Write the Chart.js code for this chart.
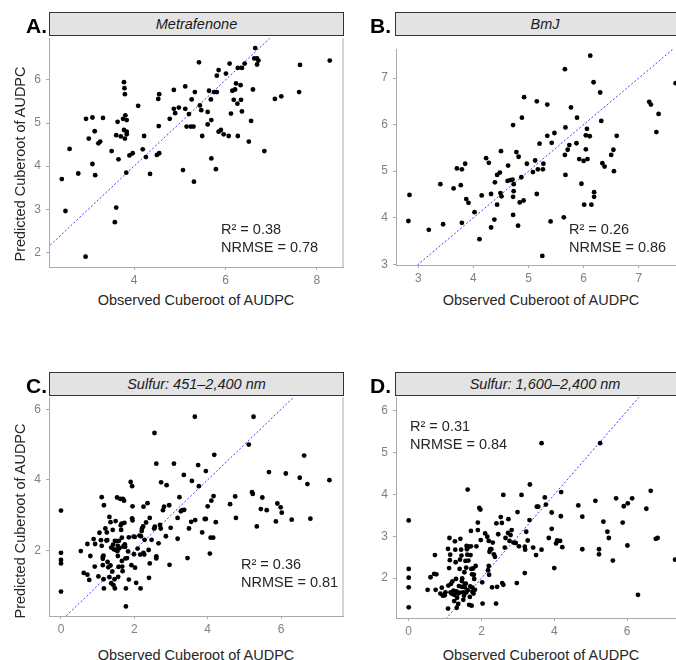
<!DOCTYPE html>
<html>
<head>
<meta charset="utf-8">
<script src="https://cdn.jsdelivr.net/npm/chart.js@4.4.1/dist/chart.umd.min.js"></script>
<style>
  html, body { margin: 0; padding: 0; background: #fff; }
  body { width: 676px; height: 660px; position: relative; overflow: hidden; font-family: Arial, "Liberation Sans", Helvetica, sans-serif; }
  .cbox { position: absolute; }
  .strip { position: absolute; background: #e3e3e3; border: 1px solid #333; box-sizing: border-box; font-style: italic; font-size: 14.5px; color: #1a1a1a; text-align: center; white-space: nowrap; }
  .tag { position: absolute; font-weight: bold; font-size: 21px; line-height: 20px; color: #000; }
  .xtitle { position: absolute; width: 300px; font-size: 14.5px; line-height: 16px; color: #262626; text-align: center; white-space: nowrap; }
  .ytitle { position: absolute; width: 300px; font-size: 14.5px; line-height: 16px; color: #262626; text-align: center; white-space: nowrap; transform: rotate(-90deg); }
  .note { position: absolute; font-size: 14.5px; line-height: 17.5px; color: #262626; white-space: nowrap; }
</style>
</head>
<body>
<script>
// panel A - Metrafenone
const metraObs = [2.42,2.50,2.59,2.78,2.95,2.94,3.01,3.09,3.09,3.14,
  3.15,3.22,3.26,3.32,3.51,3.58,3.61,3.61,3.64,3.66,
  3.71,3.76,3.78,3.79,3.80,3.78,3.80,3.81,3.84,3.84,
  3.84,3.83,3.90,3.97,4.09,4.19,4.22,4.26,4.35,4.50,
  4.53,4.55,4.54,4.55,4.78,4.87,4.87,4.90,4.98,5.07,
  5.12,5.12,5.15,5.20,5.24,5.26,5.31,5.30,5.33,5.42,
  5.44,5.47,5.49,5.61,5.61,5.64,5.68,5.69,5.69,5.75,
  5.79,5.81,5.81,5.85,5.85,5.90,5.96,6.01,6.07,6.09,
  6.12,6.15,6.18,6.21,6.23,6.26,6.27,6.27,6.34,6.33,
  6.36,6.36,6.42,6.51,6.56,6.60,6.65,6.63,6.69,6.69,
  6.72,6.85,7.08,7.22,7.61,7.63,8.28];
const metraPred = [3.70,2.96,4.40,3.83,5.10,1.90,4.64,5.13,4.05,4.81,
  3.79,4.53,4.57,5.12,4.35,2.70,3.04,4.72,5.03,4.16,
  4.69,5.10,5.95,5.81,5.67,4.84,4.64,5.18,5.07,4.80,
  4.74,3.85,4.25,4.30,5.40,4.39,4.70,4.21,3.82,4.26,
  5.56,5.67,4.93,4.30,5.10,5.77,5.33,5.23,5.36,3.91,
  5.85,5.33,4.92,5.21,4.92,5.55,3.64,4.92,5.72,6.41,
  5.41,5.30,4.70,4.97,5.26,5.75,5.55,4.18,5.07,5.72,
  3.93,5.72,6.10,4.80,6.23,4.84,4.74,6.15,4.70,6.38,
  5.22,5.75,5.54,5.78,5.92,5.45,4.70,6.28,5.54,5.88,
  6.28,5.27,6.38,4.57,5.05,5.78,6.74,6.50,6.50,6.36,
  6.45,4.35,5.56,5.62,5.72,6.35,6.45];

// panel B - BmJ
const bmjObs = [2.84,2.82,3.19,3.40,3.45,3.64,3.70,3.77,3.79,3.79,
  3.85,3.87,3.91,4.02,4.11,4.15,4.23,4.28,4.32,4.32,
  4.38,4.39,4.43,4.43,4.48,4.50,4.49,4.51,4.63,4.62,
  4.67,4.71,4.72,4.72,4.73,4.73,4.72,4.78,4.81,4.82,
  4.84,4.87,4.88,4.91,4.92,4.97,5.08,5.12,5.15,5.15,
  5.17,5.20,5.25,5.26,5.27,5.34,5.34,5.40,5.42,5.47,
  5.64,5.66,5.66,5.67,5.67,5.71,5.74,5.77,5.87,5.88,
  5.92,5.96,6.00,6.01,6.04,6.04,6.06,6.07,6.11,6.12,
  6.14,6.18,6.19,6.19,6.30,6.32,6.34,6.38,6.50,6.54,
  6.55,6.60,7.19,7.22,7.36,7.32,7.67];
const bmjPred = [4.49,3.93,3.74,4.72,3.86,4.63,5.06,4.70,5.04,3.89,
  5.16,4.40,4.32,4.12,3.54,4.48,5.28,5.18,4.51,3.79,
  3.96,4.76,4.92,4.28,4.97,5.43,4.53,4.46,5.12,4.79,
  4.81,4.82,4.06,5.99,4.72,4.57,4.45,5.41,3.83,5.31,
  4.33,4.87,6.15,4.37,6.59,5.16,4.98,5.23,6.50,4.51,
  5.04,5.59,3.18,5.04,5.16,6.43,5.76,3.92,5.61,5.82,
  4.01,7.19,5.35,5.94,4.92,5.46,5.56,6.37,5.60,6.15,
  5.26,4.73,5.22,4.28,5.47,5.77,5.91,5.26,5.75,7.48,
  4.28,6.91,4.55,4.45,6.69,6.08,5.17,5.10,5.35,5.46,
  5.00,5.76,6.49,6.43,6.23,5.84,6.89];

// panel C - Sulfur 451-2,400 nm
const sulfurFullObs = [0,0,0,0,0,0.54,0.62,0.72,0.72,0.77,
  0.80,0.89,0.92,0.93,1.02,1.05,1.09,1.11,1.11,1.14,
  1.14,1.14,1.16,1.16,1.17,1.17,1.21,1.24,1.25,1.26,
  1.27,1.29,1.32,1.32,1.35,1.35,1.37,1.37,1.40,1.41,
  1.42,1.43,1.44,1.46,1.47,1.47,1.49,1.50,1.52,1.53,
  1.54,1.55,1.55,1.56,1.57,1.58,1.59,1.62,1.63,1.64,
  1.65,1.66,1.66,1.67,1.68,1.69,1.70,1.72,1.73,1.74,
  1.75,1.76,1.77,1.77,1.80,1.83,1.85,1.85,1.90,1.92,
  1.94,1.94,1.95,1.95,1.98,1.99,2.01,2.02,2.05,2.09,
  2.14,2.16,2.17,2.18,2.20,2.21,2.24,2.25,2.25,2.27,
  2.28,2.32,2.36,2.39,2.40,2.42,2.42,2.47,2.54,2.56,
  2.60,2.60,2.60,2.66,2.70,2.72,2.73,2.78,2.81,2.86,
  2.88,2.95,2.96,2.99,3.08,3.18,3.18,3.23,3.27,3.31,
  3.35,3.36,3.45,3.49,3.55,3.57,3.66,3.74,3.76,3.85,
  3.92,2.55,3.65,5.25,5.12,4.18,6.63,3.95,5.67,6.13,
  6.51,6.72,7.32,4.16,4.10,4.00,4.75,4.61,5.21,5.23,
  5.49,5.45,5.61,5.90,5.99,6.02,3.95,4.22,4.77,5.86,
  6.29,6.80,5.34,4.08,4.15,4.06];
const sulfurFullPred = [3.13,1.93,1.73,1.63,0.83,1.98,1.36,2.18,1.31,1.16,
  1.84,2.32,1.54,2.18,1.26,2.50,2.29,2.13,3.51,1.82,
  1.76,1.58,1.85,1.18,0.92,3.28,2.62,2.28,2.51,2.29,
  1.67,1.52,2.95,1.24,2.80,1.57,2.08,1.07,1.40,2.58,
  2.16,1.01,2.03,1.18,0.92,2.27,2.83,2.01,2.26,3.50,
  1.98,2.13,1.84,1.25,1.53,2.27,2.06,3.46,2.71,2.58,
  2.76,2.36,1.70,1.54,1.41,3.46,2.11,3.41,2.78,2.17,
  2.10,1.77,0.92,0.41,1.78,1.97,2.37,1.17,3.94,1.58,
  2.91,3.82,2.85,3.25,2.39,1.89,2.38,1.51,1.08,2.05,
  2.42,1.88,0.92,2.40,2.55,2.62,2.68,1.93,3.24,1.88,
  2.30,2.79,3.34,2.01,1.22,2.92,1.63,2.30,2.62,2.67,
  4.46,1.77,1.83,2.20,2.72,2.62,3.93,3.14,3.24,2.40,
  3.85,3.28,1.59,2.64,4.46,2.92,2.33,3.51,3.11,3.14,
  4.14,3.15,1.78,2.62,2.81,3.97,2.86,4.42,3.82,2.51,
  2.89,5.33,5.79,5.79,5.00,4.71,4.69,4.25,4.22,4.18,
  4.06,3.88,3.99,3.54,3.41,3.25,3.53,3.31,3.65,3.60,
  3.50,3.17,3.14,3.33,3.22,3.07,2.89,2.80,2.92,2.82,
  2.87,2.90,2.68,2.36,2.36,1.91];

// panel D - Sulfur 1,600-2,400 nm
const sulfurSwirObs = [0,0,0,0,0,0.52,0.60,0.70,0.72,0.76,
  0.74,0.87,0.91,0.94,0.99,1.01,1.08,1.08,1.09,1.11,
  1.12,1.13,1.14,1.15,1.16,1.18,1.20,1.23,1.25,1.25,
  1.27,1.28,1.29,1.30,1.31,1.32,1.33,1.36,1.36,1.38,
  1.39,1.40,1.41,1.42,1.44,1.45,1.46,1.46,1.47,1.49,
  1.50,1.52,1.53,1.54,1.54,1.56,1.57,1.58,1.58,1.59,
  1.60,1.61,1.62,1.64,1.65,1.66,1.68,1.69,1.70,1.71,
  1.71,1.72,1.73,1.74,1.75,1.75,1.77,1.78,1.79,1.80,
  1.82,1.84,1.86,1.90,1.90,1.94,1.97,1.98,2.02,2.03,
  2.10,2.16,2.18,2.20,2.20,2.21,2.22,2.24,2.27,2.29,
  2.31,2.34,2.37,2.40,2.41,2.43,2.46,2.53,2.56,2.57,
  2.60,2.60,2.64,2.66,2.73,2.74,2.77,2.80,2.83,2.88,
  2.94,2.97,2.99,3.03,3.10,3.19,3.19,3.20,3.23,3.27,
  3.32,3.33,3.42,3.50,3.52,3.56,3.65,3.74,3.77,3.85,
  3.93,3.93,1.62,3.65,5.26,4.19,6.65,4.66,5.13,5.70,
  6.14,6.02,5.91,6.53,4.18,4.77,5.35,5.88,5.46,5.50,
  4.08,4.16,4.05,4.22,6.79,6.84,6.01,4.77,5.23,5.23,
  5.61,7.32,4.00,6.30];
const sulfurSwirPred = [3.38,2.22,2.01,1.78,1.30,1.72,2.02,2.10,2.55,2.09,
  1.72,1.63,1.77,1.58,1.59,1.66,2.70,1.27,1.82,2.24,
  2.96,2.43,2.56,1.66,1.86,1.63,1.92,1.70,1.60,1.45,
  2.88,2.68,2.38,1.98,1.68,1.29,1.53,1.63,1.38,1.81,
  1.65,2.22,2.44,2.94,2.68,2.54,1.79,1.93,1.99,1.66,
  1.48,1.58,2.14,1.86,1.78,2.41,1.87,2.25,1.66,2.77,
  2.69,2.56,1.71,2.42,2.75,1.36,1.55,1.80,2.55,3.13,
  2.76,2.22,1.34,2.09,1.77,1.67,2.23,1.63,2.08,1.98,
  1.72,2.29,2.76,3.33,3.15,3.68,3.64,2.91,1.90,1.39,
  3.07,2.99,2.19,2.89,2.29,2.08,2.63,2.69,2.69,1.78,
  2.85,2.57,2.51,1.39,3.31,1.79,3.05,3.46,3.32,1.88,
  1.84,3.99,2.73,2.96,3.08,3.41,2.89,3.03,3.15,2.85,
  2.84,1.88,3.58,2.76,3.99,2.75,2.12,2.68,3.11,2.90,
  3.39,4.24,2.73,2.55,3.71,3.71,2.68,3.93,3.76,2.96,
  3.18,3.57,4.12,5.23,5.23,4.06,4.09,3.74,3.85,3.91,
  3.91,3.79,3.72,3.66,3.48,3.47,3.35,3.33,3.11,2.96,
  2.90,2.89,2.83,2.74,2.94,2.96,2.78,2.69,2.69,2.57,
  2.42,2.44,2.24,1.60];

// tick values per panel
const metraXTicks = [4, 6, 8];
const metraYTicks = [2, 3, 4, 5, 6];
const bmjXTicks = [3, 4, 5, 6, 7];
const bmjYTicks = [3, 4, 5, 6, 7];
const sulfurFullXTicks = [0, 2, 4, 6];
const sulfurFullYTicks = [2, 4, 6];
const sulfurSwirXTicks = [0, 2, 4, 6];
const sulfurSwirYTicks = [2, 3, 4, 5, 6];

const stripTitles = ['Metrafenone', 'BmJ', 'Sulfur: 451\u20132,400 nm', 'Sulfur: 1,600\u20132,400 nm'];
const panelTags = ['A.', 'B.', 'C.', 'D.'];
const r2Values = ['0.38', '0.26', '0.36', '0.31'];
const nrmseValues = ['0.78', '0.86', '0.81', '0.84'];
const xTitle = 'Observed Cuberoot of AUDPC';
const yTitle = 'Predicted Cuberoot of AUDPC';

Chart.defaults.font.family = "Arial, 'Liberation Sans', Helvetica, sans-serif";

const Y_AXIS_W = 40, X_AXIS_H = 22, PAD_T = 10, PAD_R = 10;

const panels = [
  { obs: metraObs, pred: metraPred, xt: metraXTicks, yt: metraYTicks,
    plot: { l: 49, t: 36, r: 343, b: 267 }, xr: [2.14, 8.57], yr: [1.66, 6.97],
    box: true, strip: { l: 49, t: 12, w: 295, h: 24 }, tag: { l: 26, t: 16 },
    note: { l: 221, t: 221 }, yTitle: { cx: 20, cy: 164 }, xTitle: { cx: 196, t: 292 } },
  { obs: bmjObs, pred: bmjPred, xt: bmjXTicks, yt: bmjYTicks,
    plot: { l: 396, t: 47, r: 690, b: 265 }, xr: [2.595, 7.93], yr: [2.985, 7.62],
    box: false, strip: { l: 395, t: 12, w: 300, h: 24 }, tag: { l: 370, t: 16 },
    note: { l: 569, t: 221 }, yTitle: null, xTitle: { cx: 541, t: 292 } },
  { obs: sulfurFullObs, pred: sulfurFullPred, xt: sulfurFullXTicks, yt: sulfurFullYTicks,
    plot: { l: 49, t: 395, r: 343, b: 616 }, xr: [-0.327, 7.69], yr: [0.138, 6.345],
    box: true, strip: { l: 49, t: 372, w: 295, h: 24 }, tag: { l: 26, t: 376 },
    note: { l: 241, t: 556 }, yTitle: { cx: 20, cy: 521 }, xTitle: { cx: 196, t: 647 } },
  { obs: sulfurSwirObs, pred: sulfurSwirPred, xt: sulfurSwirXTicks, yt: sulfurSwirYTicks,
    plot: { l: 396, t: 395, r: 690, b: 618 }, xr: [-0.349, 7.73], yr: [1.045, 6.33],
    box: false, strip: { l: 395, t: 372, w: 300, h: 24 }, tag: { l: 370, t: 376 },
    note: { l: 410, t: 418 }, yTitle: null, xTitle: { cx: 541, t: 647 } }
];

const rightEdge = {
  id: 'rightEdge',
  afterDraw(chart, args, opts) {
    if (!opts.show) return;
    const a = chart.chartArea, ctx = chart.ctx;
    ctx.save();
    ctx.strokeStyle = '#aaaaaa';
    ctx.lineWidth = 1;
    ctx.beginPath();
    ctx.moveTo(a.right, a.top);
    ctx.lineTo(a.right, a.bottom);
    ctx.stroke();
    ctx.restore();
  }
};

function addDiv(cls, css, text) {
  const d = document.createElement('div');
  d.className = cls;
  Object.assign(d.style, css);
  if (text !== undefined) d.textContent = text;
  document.body.appendChild(d);
  return d;
}

function axisOpts(range, ticks, horizontal) {
  return {
    type: 'linear',
    min: range[0],
    max: range[1],
    afterBuildTicks: s => { s.ticks = ticks.map(v => ({ value: v })); },
    afterFit: s => { if (horizontal) s.height = X_AXIS_H; else s.width = Y_AXIS_W; },
    grid: { display: true, drawOnChartArea: false, drawTicks: true, tickLength: 3, color: '#aaaaaa' },
    border: { display: true, color: '#aaaaaa', width: 1 },
    ticks: { color: '#808080', font: { size: 12 }, padding: horizontal ? 3 : 5, maxRotation: 0, autoSkip: false }
  };
}

panels.forEach((p, i) => {
  const plotW = p.plot.r - p.plot.l, plotH = p.plot.b - p.plot.t;
  const w = Y_AXIS_W + plotW + PAD_R, h = PAD_T + plotH + X_AXIS_H;
  const holder = addDiv('cbox', { left: (p.plot.l - Y_AXIS_W) + 'px', top: (p.plot.t - PAD_T) + 'px', width: w + 'px', height: h + 'px' });
  const canvas = document.createElement('canvas');
  canvas.width = w;
  canvas.height = h;
  holder.appendChild(canvas);

  const points = p.obs.map((x, k) => ({ x: x, y: p.pred[k] })).filter(pt => pt.y !== undefined);
  const lo = Math.min(p.xr[0], p.yr[0]), hi = Math.max(p.xr[1], p.yr[1]);

  new Chart(canvas, {
    type: 'scatter',
    data: {
      datasets: [
        { data: points, pointRadius: 2.4, pointBackgroundColor: '#000', pointBorderWidth: 0, pointHoverRadius: 2.4, order: 1 },
        { type: 'line', data: [{ x: lo, y: lo }, { x: hi, y: hi }], showLine: true, borderColor: 'rgba(40,40,255,0.9)',
          borderWidth: 1, borderDash: [2, 2], pointRadius: 0, fill: false, order: 2 }
      ]
    },
    options: {
      responsive: false,
      devicePixelRatio: 1,
      animation: false,
      events: [],
      layout: { padding: { top: PAD_T, right: PAD_R, left: 0, bottom: 0 }, autoPadding: false },
      plugins: { legend: { display: false }, tooltip: { enabled: false }, rightEdge: { show: p.box } },
      scales: { x: axisOpts(p.xr, p.xt, true), y: axisOpts(p.yr, p.yt, false) }
    },
    plugins: [rightEdge]
  });

  addDiv('strip', { left: p.strip.l + 'px', top: p.strip.t + 'px', width: p.strip.w + 'px', height: p.strip.h + 'px', lineHeight: (p.strip.h - 2) + 'px' }, stripTitles[i]);
  addDiv('tag', { left: p.tag.l + 'px', top: p.tag.t + 'px' }, panelTags[i]);
  const note = addDiv('note', { left: p.note.l + 'px', top: p.note.t + 'px' });
  note.innerHTML = 'R\u00b2 = ' + r2Values[i] + '<br>NRMSE = ' + nrmseValues[i];
  addDiv('xtitle', { left: (p.xTitle.cx - 150) + 'px', top: p.xTitle.t + 'px' }, xTitle);
  if (p.yTitle) addDiv('ytitle', { left: (p.yTitle.cx - 150) + 'px', top: (p.yTitle.cy - 8) + 'px' }, yTitle);
});
</script>
</body>
</html>
